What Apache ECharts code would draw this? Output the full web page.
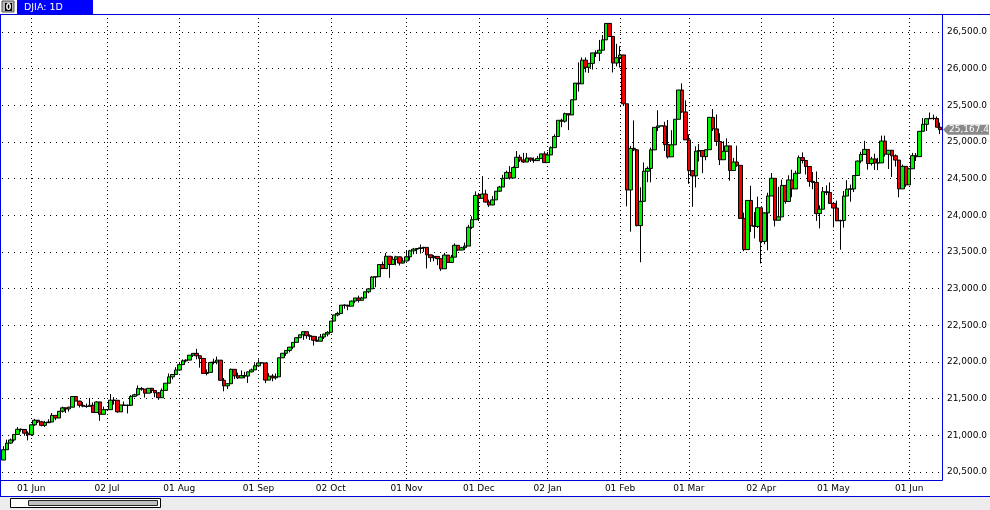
<!DOCTYPE html>
<html>
<head>
<meta charset="utf-8">
<script src="https://cdn.jsdelivr.net/npm/echarts@6/dist/echarts.min.js"></script>
<style>
html,body{margin:0;padding:0;background:#fff;}
#c{width:990px;height:510px;}
</style>
</head>
<body>
<div id="c"></div>
<script>
// rows: [date, open, high, low, close]
const may17 = [
['2017-05-19',20663,20852,20663,20804],['2017-05-22',20804,20941,20804,20894],['2017-05-23',20894,20956,20884,20937],
['2017-05-24',20937,21016,20914,21012],['2017-05-25',21012,21112,21012,21082],['2017-05-26',21082,21094,21050,21080],
['2017-05-30',21080,21080,20994,21029],['2017-05-31',21029,21055,20931,21008]];
const jun17 = [
['2017-06-01',21008,21144,20993,21144],['2017-06-02',21144,21225,21130,21206],['2017-06-05',21206,21210,21168,21184],
['2017-06-06',21184,21197,21123,21136],['2017-06-07',21136,21197,21113,21173],['2017-06-08',21173,21219,21167,21182],
['2017-06-09',21182,21305,21182,21272],['2017-06-12',21272,21272,21206,21236],['2017-06-13',21236,21331,21236,21328],
['2017-06-14',21328,21392,21312,21375],['2017-06-15',21375,21376,21305,21360],['2017-06-16',21360,21391,21324,21384],
['2017-06-19',21384,21535,21384,21529],['2017-06-20',21529,21535,21467,21467],['2017-06-21',21467,21471,21379,21410],
['2017-06-22',21410,21455,21383,21397],['2017-06-23',21397,21434,21375,21395],['2017-06-26',21395,21510,21395,21410],
['2017-06-27',21410,21449,21310,21311],['2017-06-28',21311,21466,21311,21455],['2017-06-29',21455,21456,21197,21287],
['2017-06-30',21287,21392,21287,21350]];
const jul17 = [
['2017-07-02',21350,21350,21350,21350],['2017-07-03',21350,21562,21350,21479],['2017-07-05',21479,21520,21418,21478],
['2017-07-06',21478,21478,21308,21320],['2017-07-07',21320,21417,21320,21414],['2017-07-10',21414,21461,21404,21409],
['2017-07-11',21409,21421,21299,21409],['2017-07-12',21409,21547,21409,21532],['2017-07-13',21532,21566,21520,21553],
['2017-07-14',21553,21681,21544,21638],['2017-07-17',21638,21660,21608,21630],['2017-07-18',21630,21630,21514,21575],
['2017-07-19',21575,21644,21575,21641],['2017-07-20',21641,21647,21577,21612],['2017-07-21',21612,21612,21520,21580],
['2017-07-24',21580,21588,21484,21513],['2017-07-25',21513,21639,21513,21613],['2017-07-26',21613,21711,21613,21711],
['2017-07-27',21711,21843,21711,21797],['2017-07-28',21797,21833,21763,21830],['2017-07-31',21830,21929,21830,21891]];
const aug17 = [
['2017-08-01',21891,21990,21891,21964],['2017-08-02',21964,22036,21960,22016],['2017-08-03',22016,22036,21995,22026],
['2017-08-04',22026,22093,22026,22093],['2017-08-07',22093,22121,22068,22118],['2017-08-08',22118,22179,22037,22085],
['2017-08-09',22085,22085,21923,22049],['2017-08-10',22049,22049,21844,21844],['2017-08-11',21844,21899,21818,21858],
['2017-08-14',21858,22001,21858,21994],['2017-08-15',21994,22044,21968,21999],['2017-08-16',21999,22074,21969,22025],
['2017-08-17',22025,22025,21751,21751],['2017-08-18',21751,21781,21600,21675],['2017-08-21',21675,21711,21632,21704],
['2017-08-22',21704,21912,21704,21900],['2017-08-23',21900,21900,21767,21812],['2017-08-24',21812,21855,21768,21783],
['2017-08-25',21783,21885,21783,21814],['2017-08-28',21814,21866,21777,21808],['2017-08-29',21808,21871,21714,21865],
['2017-08-30',21865,21912,21860,21892],['2017-08-31',21892,21982,21892,21948]];
const sep17 = [
['2017-09-01',21948,22036,21948,21988],['2017-09-04',21988,21988,21988,21988],['2017-09-05',21988,21988,21712,21753],
['2017-09-06',21753,21848,21753,21808],['2017-09-07',21808,21835,21737,21785],['2017-09-08',21785,21843,21760,21798],
['2017-09-11',21798,22060,21798,22057],['2017-09-12',22057,22123,22055,22119],['2017-09-13',22119,22160,22084,22158],
['2017-09-14',22158,22204,22131,22203],['2017-09-15',22203,22269,22175,22268],['2017-09-18',22268,22340,22268,22331],
['2017-09-19',22331,22372,22331,22371],['2017-09-20',22371,22413,22302,22413],['2017-09-21',22413,22413,22317,22359],
['2017-09-22',22359,22377,22300,22350],['2017-09-25',22350,22350,22224,22296],['2017-09-26',22296,22353,22277,22284],
['2017-09-27',22284,22382,22284,22341],['2017-09-28',22341,22384,22314,22381],['2017-09-29',22381,22419,22351,22405]];
const oct17 = [
['2017-10-02',22405,22558,22405,22558],['2017-10-03',22558,22642,22554,22642],['2017-10-04',22642,22685,22624,22662],
['2017-10-05',22662,22777,22662,22775],['2017-10-06',22775,22786,22728,22774],['2017-10-09',22774,22781,22706,22761],
['2017-10-10',22761,22838,22761,22831],['2017-10-11',22831,22873,22801,22873],['2017-10-12',22873,22905,22811,22841],
['2017-10-13',22841,22890,22841,22872],['2017-10-16',22872,22957,22872,22957],['2017-10-17',22957,23003,22938,22997],
['2017-10-18',22997,23171,22997,23158],['2017-10-19',23158,23164,23020,23163],['2017-10-20',23163,23329,23163,23329],
['2017-10-23',23329,23368,23267,23274],['2017-10-24',23274,23485,23274,23442],['2017-10-25',23442,23442,23148,23329],
['2017-10-26',23329,23441,23329,23401],['2017-10-27',23401,23448,23319,23434],['2017-10-30',23434,23434,23316,23349],
['2017-10-31',23349,23423,23343,23377]];
const nov17 = [
['2017-11-01',23377,23517,23377,23435],['2017-11-02',23435,23531,23386,23516],['2017-11-03',23516,23556,23469,23539],
['2017-11-06',23539,23549,23475,23548],['2017-11-07',23548,23603,23479,23557],['2017-11-08',23557,23571,23500,23563],
['2017-11-09',23563,23563,23276,23462],['2017-11-10',23462,23462,23366,23422],['2017-11-13',23422,23458,23375,23440],
['2017-11-14',23440,23440,23320,23409],['2017-11-15',23409,23409,23242,23271],['2017-11-16',23271,23488,23271,23458],
['2017-11-17',23458,23458,23355,23358],['2017-11-20',23358,23459,23355,23430],['2017-11-21',23430,23617,23430,23591],
['2017-11-22',23591,23591,23515,23526],['2017-11-24',23526,23572,23526,23558],['2017-11-27',23558,23628,23525,23581],
['2017-11-28',23581,23870,23581,23837],['2017-11-29',23837,23987,23815,23941],['2017-11-30',23941,24327,23941,24272]];
const dec17 = [
['2017-12-01',24272,24305,23922,24232],['2017-12-04',24232,24534,24232,24290],['2017-12-05',24290,24349,24175,24181],
['2017-12-06',24181,24214,24113,24141],['2017-12-07',24141,24262,24138,24211],['2017-12-08',24211,24331,24211,24329],
['2017-12-11',24329,24402,24320,24386],['2017-12-12',24386,24552,24386,24505],['2017-12-13',24505,24609,24505,24585],
['2017-12-14',24585,24671,24489,24509],['2017-12-15',24509,24668,24509,24652],['2017-12-18',24652,24877,24652,24792],
['2017-12-19',24792,24826,24730,24755],['2017-12-20',24755,24851,24714,24727],['2017-12-21',24727,24849,24727,24782],
['2017-12-22',24782,24786,24727,24754],['2017-12-26',24754,24789,24716,24746],['2017-12-27',24746,24810,24741,24774],
['2017-12-28',24774,24839,24774,24838],['2017-12-29',24838,24872,24719,24719]];
const jan18 = [
['2018-01-02',24719,24864,24719,24824],['2018-01-03',24824,24941,24824,24923],['2018-01-04',24923,25105,24923,25075],
['2018-01-05',25075,25296,25075,25296],['2018-01-08',25296,25317,25202,25283],['2018-01-09',25283,25401,25264,25386],
['2018-01-10',25386,25386,25163,25369],['2018-01-11',25369,25580,25369,25575],['2018-01-12',25575,25805,25575,25803],
['2018-01-16',25803,26086,25688,25793],['2018-01-17',25793,26153,25793,26116],['2018-01-18',26116,26153,25950,26018],
['2018-01-19',26018,26072,25942,26072],['2018-01-22',26072,26215,25987,26215],['2018-01-23',26215,26250,26159,26211],
['2018-01-24',26211,26392,26103,26252],['2018-01-25',26252,26459,26252,26393],['2018-01-26',26393,26617,26393,26617],
['2018-01-29',26617,26617,26433,26439],['2018-01-30',26439,26439,25949,26077],['2018-01-31',26077,26339,26031,26149]];
const feb18 = [
['2018-02-01',26149,26306,26015,26187],['2018-02-02',26187,26187,25490,25521],['2018-02-05',25521,25521,24122,24346],
['2018-02-06',24346,24947,23778,24913],['2018-02-07',24913,25294,24876,24893],['2018-02-08',24893,24904,23849,23860],
['2018-02-09',23860,24382,23360,24191],['2018-02-12',24191,24721,24191,24601],['2018-02-13',24601,24667,24452,24640],
['2018-02-14',24640,24924,24450,24893],['2018-02-15',24893,25203,24889,25200],['2018-02-16',25200,25432,25149,25219],
['2018-02-19',25219,25219,25219,25219],['2018-02-20',25219,25275,24877,24965],['2018-02-21',24965,25300,24775,24798],
['2018-02-22',24798,25161,24798,24962],['2018-02-23',24962,25310,24962,25310],['2018-02-26',25310,25709,25310,25709],
['2018-02-27',25709,25800,25399,25410],['2018-02-28',25410,25568,25029,25029]];
const mar18 = [
['2018-03-01',25029,25105,24430,24609],['2018-03-02',24609,24609,24117,24538],['2018-03-05',24538,24941,24380,24875],
['2018-03-06',24875,24973,24734,24884],['2018-03-07',24884,24884,24575,24801],['2018-03-08',24801,24902,24751,24895],
['2018-03-09',24895,25336,24895,25336],['2018-03-12',25336,25449,25150,25179],['2018-03-13',25179,25376,24946,25007],
['2018-03-14',25007,25119,24686,24758],['2018-03-15',24758,25010,24758,24874],['2018-03-16',24874,25050,24870,24947],
['2018-03-19',24947,24947,24472,24611],['2018-03-20',24611,24783,24611,24727],['2018-03-21',24727,24950,24661,24682],
['2018-03-22',24682,24682,23958,23958],['2018-03-23',23958,24037,23510,23533],['2018-03-26',23533,24209,23533,24203],
['2018-03-27',24203,24403,23772,23858],['2018-03-28',23858,24045,23686,23848],['2018-03-29',23848,24255,23827,24103]];
const apr18 = [
['2018-04-02',24103,24103,23344,23644],['2018-04-03',23644,24044,23605,24033],['2018-04-04',24033,24308,23523,24264],
['2018-04-05',24264,24577,24264,24505],['2018-04-06',24505,24505,23849,23933],['2018-04-09',23933,24388,23933,23979],
['2018-04-10',23979,24486,23979,24408],['2018-04-11',24408,24408,24158,24189],['2018-04-12',24189,24545,24189,24483],
['2018-04-13',24483,24622,24248,24360],['2018-04-16',24360,24609,24360,24573],['2018-04-17',24573,24817,24573,24787],
['2018-04-18',24787,24858,24708,24748],['2018-04-19',24748,24753,24557,24665],['2018-04-20',24665,24666,24389,24463],
['2018-04-23',24463,24590,24357,24449],['2018-04-24',24449,24598,23924,24024],['2018-04-25',24024,24136,23822,24084],
['2018-04-26',24084,24385,24084,24322],['2018-04-27',24322,24409,24276,24311],['2018-04-30',24311,24449,24163,24163]];
const may18 = [
['2018-05-01',24163,24163,23835,24099],['2018-05-02',24099,24201,23920,23925],['2018-05-03',23925,23941,23531,23930],
['2018-05-04',23930,24333,23832,24263],['2018-05-07',24263,24479,24263,24357],['2018-05-08',24357,24420,24186,24360],
['2018-05-09',24360,24543,24318,24543],['2018-05-10',24543,24747,24543,24740],['2018-05-11',24740,24867,24711,24831],
['2018-05-14',24831,25017,24831,24899],['2018-05-15',24899,24899,24623,24706],['2018-05-16',24706,24797,24679,24769],
['2018-05-17',24769,24842,24620,24714],['2018-05-18',24714,24784,24616,24715],['2018-05-21',24715,25087,24715,25013],
['2018-05-22',25013,25087,24802,24834],['2018-05-23',24834,24890,24632,24887],['2018-05-24',24887,24887,24523,24812],
['2018-05-25',24812,24831,24665,24753],['2018-05-29',24753,24753,24246,24361],['2018-05-30',24361,24692,24361,24668],
['2018-05-31',24668,24668,24388,24416]];
const jun18 = [
['2018-06-01',24416,24649,24416,24635],['2018-06-04',24635,24851,24635,24814],['2018-06-05',24814,24850,24741,24800],
['2018-06-06',24800,25146,24800,25146],['2018-06-07',25146,25327,25146,25241],['2018-06-08',25241,25317,25150,25317],
['2018-06-11',25317,25402,25317,25322],['2018-06-12',25322,25373,25298,25321],['2018-06-13',25321,25348,25201,25201],
['2018-06-14',25201,25264,25108,25167.4]];

const seriesName = 'DJIA: 1D';
const yMin = 20390.9, yMax = 26745.5;   // visible value range of the price pane
const monthAbbr = ['Jan','Feb','Mar','Apr','May','Jun','Jul','Aug','Sep','Oct','Nov','Dec'];

const rows = [].concat(may17, jun17, jul17, aug17, sep17, oct17, nov17, dec17, jan18, feb18, mar18, apr18, may18, jun18);
const categories = rows.map(r => r[0]);
const candles = rows.map(r => [r[1], r[4], r[3], r[2]]); // open, close, low, high
const lastClose = rows[rows.length - 1][4];

const isMonthStart = (i) => i > 0 && categories[i].slice(0, 7) !== categories[i - 1].slice(0, 7);
const fmtDate = (v) => v.slice(8, 10) + ' ' + monthAbbr[parseInt(v.slice(5, 7), 10) - 1];
const fmtPrice = (v) => v.toLocaleString('en-US', {minimumFractionDigits: 1, maximumFractionDigits: 1});

const FONT = 'DejaVu Sans';
const BLUE = '#0000d8';
const chart = echarts.init(document.getElementById('c'), null, {renderer: 'canvas'});

chart.setOption({
  animation: false,
  backgroundColor: '#ffffff',
  grid: {left: 2, right: 48, top: 14, bottom: 30, containLabel: false},
  xAxis: {
    type: 'category', data: categories, boundaryGap: true,
    axisLine: {show: false}, axisTick: {show: false},
    axisLabel: {interval: (i) => isMonthStart(i), formatter: fmtDate, color: '#000', fontFamily: FONT, fontSize: 9, margin: 4},
    splitLine: {show: true, interval: (i) => isMonthStart(i), alignWithLabel: true, lineStyle: {color: '#000', width: 1, type: [1, 3]}}
  },
  yAxis: {
    type: 'value', position: 'right', min: yMin, max: yMax, splitNumber: 13, scale: true,
    axisLine: {show: false}, axisTick: {show: false},
    axisLabel: {showMinLabel: false, showMaxLabel: false, color: '#000', fontFamily: FONT, fontSize: 9, margin: 5,
      formatter: (v) => (Math.abs(v % 500) < 1e-6 ? fmtPrice(v) : '')},
    splitLine: {show: true, lineStyle: {color: '#000', width: 1, type: [1, 5]}}
  },
  series: [{
    name: seriesName, type: 'candlestick', data: candles, barWidth: 4, silent: true,
    itemStyle: {color: '#00f000', color0: '#f00000', borderColor: '#000', borderColor0: '#000', borderColorDoji: '#000', borderWidth: 1}
  }]
});

const yTag = chart.convertToPixel({yAxisIndex: 0}, lastClose);
const W = 990, H = 510, plotR = 942.5, plotB = 480.5;

chart.setOption({
  graphic: [
    // header strip
    {type: 'rect', z: 100, shape: {x: 0, y: 0, width: W, height: 14}, style: {fill: '#fff'}},
    {type: 'line', z: 101, shape: {x1: 0, y1: 14.5, x2: W, y2: 14.5}, style: {stroke: BLUE, lineWidth: 1}},
    {type: 'rect', z: 101, shape: {x: 2, y: 1, width: 12, height: 11}, style: {fill: '#b8b8b8', stroke: '#555', lineWidth: 1}},
    {type: 'rect', z: 102, shape: {x: 5, y: 3, width: 7, height: 8}, style: {fill: '#000'}},
    {type: 'text', z: 103, style: {x: 8.5, y: 7.5, text: '0', fill: '#fff', font: 'bold 8px ' + FONT, align: 'center', verticalAlign: 'middle'}},
    {type: 'rect', z: 101, shape: {x: 17, y: 0, width: 76, height: 14}, style: {fill: '#0000ff'}},
    {type: 'text', z: 102, style: {x: 24, y: 7.5, text: seriesName, fill: '#fff', font: '9.5px ' + FONT, verticalAlign: 'middle'}},
    // plot borders
    {type: 'line', z: 101, shape: {x1: 0.5, y1: 14, x2: 0.5, y2: 497}, style: {stroke: BLUE, lineWidth: 1}},
    {type: 'line', z: 101, shape: {x1: plotR, y1: 14, x2: plotR, y2: plotB}, style: {stroke: BLUE, lineWidth: 1}},
    {type: 'line', z: 101, shape: {x1: 0, y1: plotB, x2: plotR, y2: plotB}, style: {stroke: BLUE, lineWidth: 1}},
    // bottom scroll area
    {type: 'rect', z: 100, shape: {x: 0, y: 496, width: W, height: 14}, style: {fill: '#ececec'}},
    {type: 'line', z: 101, shape: {x1: 0, y1: 496.5, x2: W, y2: 496.5}, style: {stroke: BLUE, lineWidth: 1}},
    {type: 'rect', z: 101, shape: {x: 10.5, y: 498.5, width: 150, height: 9}, style: {fill: '#fff', stroke: '#000', lineWidth: 1}},
    {type: 'rect', z: 102, shape: {x: 28.5, y: 500.5, width: 129, height: 5}, style: {fill: '#c0c0c0', stroke: '#222', lineWidth: 1}},
    // last price tag
    {type: 'polygon', z: 110, shape: {points: [[943, yTag], [948, yTag - 5], [989, yTag - 5], [989, yTag + 5], [948, yTag + 5]]}, style: {fill: '#8a8a8a'}},
    {type: 'text', z: 111, style: {x: 949, y: yTag, text: fmtPrice(lastClose), fill: '#fff', font: '9px ' + FONT, verticalAlign: 'middle'}}
  ]
});
</script>
</body>
</html>
